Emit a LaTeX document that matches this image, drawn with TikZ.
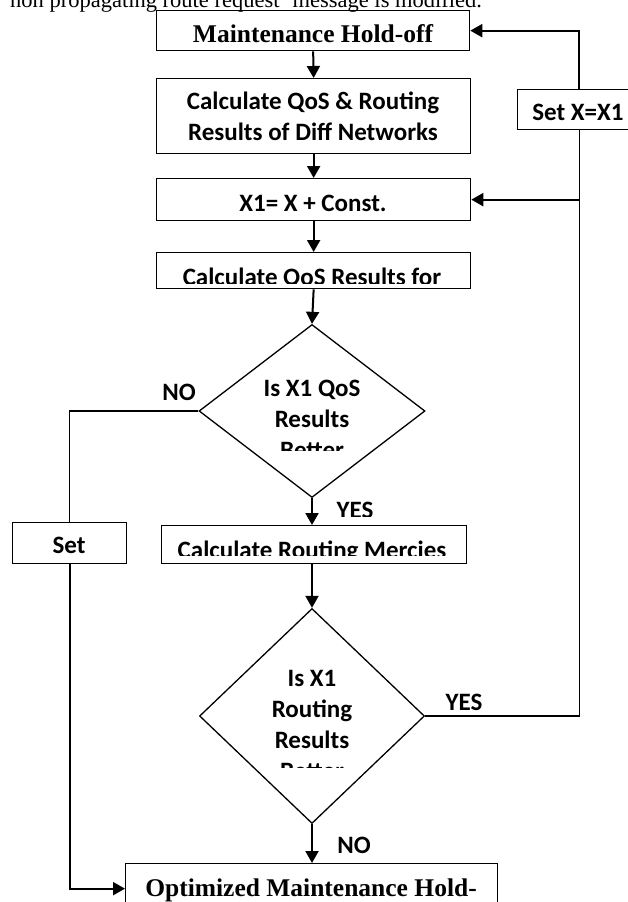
\documentclass[tikz,border=0pt]{standalone}
\usepackage{fontspec}
\setmainfont{Liberation Serif}
\newfontfamily\calfont{Carlito}
\usetikzlibrary{arrows.meta,shapes.geometric}
\begin{document}
\begin{tikzpicture}[x=1pt,y=-1pt,
  box/.style={draw, line width=1.3pt, inner sep=0pt, anchor=north west},
  dia/.style={draw, diamond, line width=1.3pt, inner sep=0pt},
  cal/.style={font=\calfont\bfseries\fontsize{25}{31}\selectfont, inner sep=0pt, anchor=base},
  tms/.style={font=\bfseries\fontsize{25.5}{30}\selectfont, inner sep=0pt, anchor=base},
  line/.style={line width=1.3pt},
  arr/.style={line width=2pt, -{Triangle[length=12pt,width=13pt]}},
]
\useasboundingbox (0,0) rectangle (627,902);

% caption line (cut at the top)
\node[font=\fontsize{22.5}{27}\selectfont, inner sep=0pt, anchor=base west] (cap) at (10,7) {non propagating route request' message is modified.};

% boxes
\node[box, minimum width=313pt, minimum height=40pt] (mho) at (156,10) {};
\node[box, minimum width=314pt, minimum height=75pt] (qos) at (156,78) {};
\node[box, minimum width=314pt, minimum height=42pt] (x1) at (156,178) {};
\node[box, minimum width=314pt, minimum height=36pt] (cqr) at (156,252) {};
\node[box, minimum width=305pt, minimum height=38pt] (crm) at (161,525) {};
\node[box, minimum width=114pt, minimum height=41pt] (setb) at (12,522) {};
\node[box, minimum width=123pt, minimum height=40pt] (setx) at (517,89) {};
\node[box, minimum width=372pt, minimum height=50pt] (opt) at (125,863) {};

% diamonds
\node[dia, minimum width=226pt, minimum height=173pt] (d1) at (312,411) {};
\node[dia, minimum width=225pt, minimum height=215pt] (d2) at (312,716) {};

% texts
\node[tms] (tmho) at (313,42) {Maintenance Hold-off};
\node[cal] (tqos1) at (313,109) {Calculate QoS \& Routing};
\node[cal] (tqos2) at (313,140) {Results of Diff Networks};
\node[cal] (tx1) at (313,211) {X1= X + Const.};
\node[cal] (tsetx) at (578,120) {Set X=X1};
\begin{scope}
  \clip (157,253) rectangle (469,283);
  \node[cal] (tcqr) at (312,285) {Calculate QoS Results for};
\end{scope}
\node[cal] (td1a) at (312,396) {Is X1 QoS};
\node[cal] (td1b) at (312,427) {Results};
\begin{scope}
  \clip (200,438) rectangle (424,450);
  \node[cal] (td1c) at (312,458) {Better};
\end{scope}
\begin{scope}
  \clip (162,526) rectangle (465,555);
  \node[cal] (tcrm) at (312,558) {Calculate Routing Mercies};
\end{scope}
\node[cal] (tset) at (69,553) {Set};
\node[cal] (td2a) at (312,686) {Is X1};
\node[cal] (td2b) at (312,717) {Routing};
\node[cal] (td2c) at (312,748) {Results};
\begin{scope}
  \clip (200,757) rectangle (424,767);
  \node[cal] (td2d) at (312,779) {Better};
\end{scope}
\node[tms] (topt) at (311,896) {Optimized Maintenance Hold-};

% labels
\node[cal] (no1) at (179,400) {NO};
\begin{scope}
  \clip (320,495) rectangle (400,516);
  \node[cal] (yes1) at (355,518) {YES};
\end{scope}
\node[cal] (yes2) at (464,710) {YES};
\node[cal] (no2) at (354,853) {NO};

% connectors
\draw[arr] (mho.south) -- (qos.north);
\draw[arr] (qos.south) -- (x1.north);
\draw[arr] (x1.south) -- (cqr.north);
\draw[arr] (cqr.south) -- (d1.north);
\draw[arr] (d1.south) -- (crm.north -| d1.south);
\draw[arr] (crm.south -| d2.north) -- (d2.north);
\draw[arr] (d2.south) -- (opt.north -| d2.south);
\draw[line] (d1.west) -| (setb.north);
\draw[arr] (setb.south) |- (opt.west);
\draw[line] (d2.east) -| (setx.south);
\draw[arr] (setx.north) |- (mho.east);
\coordinate (j) at (setx.south |- x1.east);
\draw[arr] (j) -- (x1.east);
\end{tikzpicture}
\end{document}
